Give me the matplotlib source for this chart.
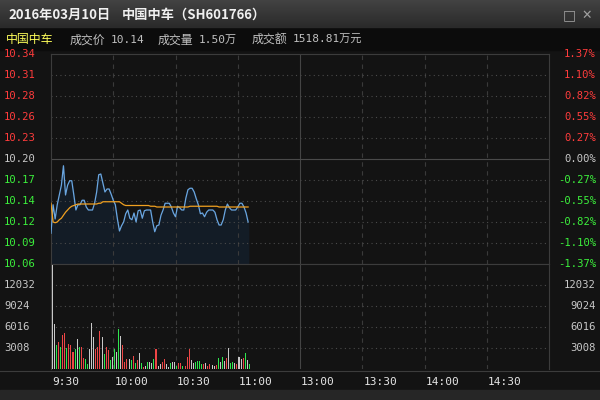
import numpy as np
import matplotlib.pyplot as plt
from matplotlib.patches import Rectangle
from matplotlib.colors import LinearSegmentedColormap
import matplotlib.transforms as mtransforms

plt.rcParams['font.family'] = ['Noto Sans CJK SC', 'DejaVu Sans']

W, H = 600, 400

# ---- data ----
pre_close = 10.20
price_span = 0.14
vol_max = 15040
minutes_total = 240

title_date = '2016年03月10日'
title_stock = '中国中车（SH601766）'
stock_name = '中国中车'
info_labels = ['成交价', '成交量', '成交额']
info_values = ['10.14', '1.50万', '1518.81万元']

price_labels = ['10.34', '10.31', '10.28', '10.26', '10.23', '10.20',
                '10.17', '10.14', '10.12', '10.09', '10.06']
pct_labels = ['1.37%', '1.10%', '0.82%', '0.55%', '0.27%', '0.00%',
              '-0.27%', '-0.55%', '-0.82%', '-1.10%', '-1.37%']
vol_ticks = [12032, 9024, 6016, 3008]
vol_labels = ['12032', '9024', '6016', '3008']
time_labels = ['9:30', '10:00', '10:30', '11:00', '13:00', '13:30', '14:00', '14:30']

price = [10.101, 10.139, 10.120, 10.139, 10.152, 10.165, 10.191, 10.152, 10.165, 10.171,
         10.171, 10.152, 10.132, 10.139, 10.139, 10.145, 10.145, 10.136, 10.132, 10.132,
         10.132, 10.141, 10.156, 10.179, 10.180, 10.168, 10.156, 10.160, 10.160, 10.153,
         10.145, 10.139, 10.120, 10.104, 10.111, 10.116, 10.127, 10.132, 10.121, 10.119,
         10.128, 10.116, 10.131, 10.132, 10.121, 10.131, 10.132, 10.132, 10.132, 10.116,
         10.103, 10.111, 10.112, 10.125, 10.132, 10.141, 10.141, 10.141, 10.136, 10.128,
         10.123, 10.137, 10.135, 10.132, 10.132, 10.148, 10.159, 10.161, 10.161, 10.156,
         10.147, 10.139, 10.127, 10.128, 10.123, 10.129, 10.132, 10.132, 10.132, 10.129,
         10.119, 10.112, 10.112, 10.119, 10.132, 10.140, 10.135, 10.132, 10.132, 10.132,
         10.136, 10.141, 10.141, 10.136, 10.128, 10.116]

avg_price = ([10.141, 10.116, 10.115, 10.116, 10.119, 10.121, 10.125, 10.129, 10.132,
              10.135, 10.137, 10.138, 10.139]
             + [10.140] * 10 + [10.141, 10.141] + [10.143] * 9 + [10.141, 10.139]
             + [10.138] * 12 + [10.137] * 3 + [10.136] * 16 + [10.137] * 14
             + [10.136] * 15)

volume = [14900, 6450, 3440, 3920, 3200, 4870, 5110, 2960, 3580, 3440,
          2480, 2860, 4300, 3100, 3200, 1620, 1480, 720, 2860, 6540,
          4630, 2910, 3200, 5440, 4540, 2100, 3200, 2720, 1290, 1770,
          2820, 2480, 5730, 4730, 3440, 1050, 1380, 1430, 1290, 1860,
          810, 1290, 2240, 810, 330, 430, 1000, 1050, 810, 1430,
          2820, 480, 670, 1050, 1380, 720, 330, 810, 1050, 1050,
          430, 810, 810, 430, 430, 1670, 2860, 1290, 810, 1050,
          1150, 1150, 670, 720, 810, 430, 760, 620, 430, 620,
          1530, 1050, 1670, 1150, 1530, 2960, 900, 1050, 810, 720,
          1770, 1380, 1530, 2240, 1290, 670]
# r = up, g = down, w = unchanged
vol_dir = ('wwgrgrrgrr' 'rgwgrrggww' 'wrrrwgrrgw' 'gwgwrrrwgr'
           'grwgrwgwwg' 'rwwrrwwgww' 'grrgrrrwwg' 'gggrwrrwwr'
           'gwgwrwggwr' 'wwrgwg')

# ---- colours ----
bg = '#131313'
frame = '#3c3c3c'
grid = '#3a3a3a'
red = '#ff3c3c'
green = '#3cf03c'
grey = '#c8c8c8'
bar_col = {'r': '#ee4646', 'g': '#2ee64e', 'w': '#c8c8c8'}

fig = plt.figure(figsize=(6, 4), dpi=100, facecolor=bg)


def fy(py):
    return 1 - py / H


# title bar
ax_t = fig.add_axes([0, fy(28), 1, 28 / H])
cm = LinearSegmentedColormap.from_list('tb', ['#424242', '#2a2a2a'])
ax_t.imshow(np.linspace(0, 1, 28).reshape(-1, 1), aspect='auto', cmap=cm,
            extent=[0, 1, 0, 1])
ax_t.set_axis_off()
fig.text(8 / W, fy(15), title_date, color='#f0f0f0', fontsize=9.5,
         fontweight='bold', va='center', ha='left')
fig.text(122 / W, fy(15), title_stock, color='#f0f0f0', fontsize=9.5,
         fontweight='bold', va='center', ha='left')
fig.text(569 / W, fy(15), '□', color='#a0a0a0', fontsize=10, va='center',
         ha='center', family='DejaVu Sans')
fig.text(587 / W, fy(15), '✕', color='#a0a0a0', fontsize=9, va='center',
         ha='center', family='DejaVu Sans')

# info line
fig.patches.append(Rectangle((0, fy(50)), 1, 21 / H, transform=fig.transFigure,
                             color='#0c0c0c', zorder=0))
fig.text(6 / W, fy(40), stock_name, color='#ffff5a', fontsize=8.6,
         va='center', ha='left')
info_x = [70, 158, 252]
for x0, lab, val in zip(info_x, info_labels, info_values):
    fig.text(x0 / W, fy(40), lab, color='#c0c0c0', fontsize=8.6,
             va='center', ha='left')
    fig.text((x0 + 41) / W, fy(40), val, color='#c0c0c0', fontsize=8,
             va='center', ha='left', family=['DejaVu Sans Mono', 'Noto Sans CJK SC'])

# bottom strip
fig.patches.append(Rectangle((0, 0), 1, 10 / H, transform=fig.transFigure,
                             color='#262626', zorder=0))
fig.lines.append(plt.Line2D([0, 1], [fy(370.5)] * 2, transform=fig.transFigure,
                            color=frame, lw=0.8))

ax_p = fig.add_axes([51 / W, fy(264), 498 / W, 210 / H])
ax_v = fig.add_axes([51 / W, fy(369), 498 / W, 105 / H])

x = np.arange(len(price))
for ax in (ax_p, ax_v):
    ax.set_facecolor(bg)
    ax.set_xlim(0, minutes_total)
    ax.set_xticks([])
    ax.set_yticks([])
    for s in ax.spines.values():
        s.set_color(frame)
        s.set_linewidth(0.8)
    ax.spines['bottom'].set_visible(False)
    for k in range(1, 8):
        if k == 4:
            ax.axvline(k * 30, color='#444444', lw=0.8)
        else:
            ax.axvline(k * 30, color=grid, lw=0.8, ls=(0, (4, 4)))

lo, hi = pre_close - price_span, pre_close + price_span
ax_p.set_ylim(lo, hi)
ax_p.spines['bottom'].set_visible(True)
levels = [pre_close + price_span * (5 - k) / 5 for k in range(11)]
for k, lev in enumerate(levels):
    if k == 5:
        ax_p.axhline(lev, color='#4a4a4a', lw=0.8)
    elif 0 < k < 10:
        ax_p.axhline(lev, color='#4a4a4a', lw=0.8, ls=(0, (1, 3)))

ax_p.fill_between(x, price, lo, color='#131c26', zorder=1)
ax_p.plot(x, price, color='#6aa6e0', lw=0.9, zorder=3)
ax_p.plot(x, avg_price, color='#f0a020', lw=0.9, zorder=4)

trans_l = mtransforms.blended_transform_factory(fig.transFigure, ax_p.transData)
for k, lev in enumerate(levels):
    col = red if k < 5 else (grey if k == 5 else green)
    fig.text(4 / W, lev, price_labels[k], transform=trans_l, color=col,
             fontsize=7.6, va='center', ha='left', family='DejaVu Sans Mono')
    fig.text(596 / W, lev, pct_labels[k], transform=trans_l, color=col,
             fontsize=7.6, va='center', ha='right', family='DejaVu Sans Mono')

ax_v.set_ylim(0, vol_max)
for t in vol_ticks:
    ax_v.axhline(t, color='#4a4a4a', lw=0.8, ls=(0, (1, 3)))
ax_v.bar(x + 0.6, volume, width=0.5, color=[bar_col[c] for c in vol_dir],
         linewidth=0, antialiased=False, zorder=3)
trans_v = mtransforms.blended_transform_factory(fig.transFigure, ax_v.transData)
for t, lab in zip(vol_ticks, vol_labels):
    fig.text(4 / W, t, lab, transform=trans_v, color=grey, fontsize=7.6,
             va='center', ha='left', family='DejaVu Sans Mono')
    fig.text(596 / W, t, lab, transform=trans_v, color=grey, fontsize=7.6,
             va='center', ha='right', family='DejaVu Sans Mono')

for k, lab in enumerate(time_labels):
    px = 51 + k * 498 / 8
    fig.text((px + 1) / W, fy(382), lab, color='#e6e6e6', fontsize=8,
             va='center', ha='left', family='DejaVu Sans Mono')

fig.savefig('out.png', dpi=100, facecolor=bg)
